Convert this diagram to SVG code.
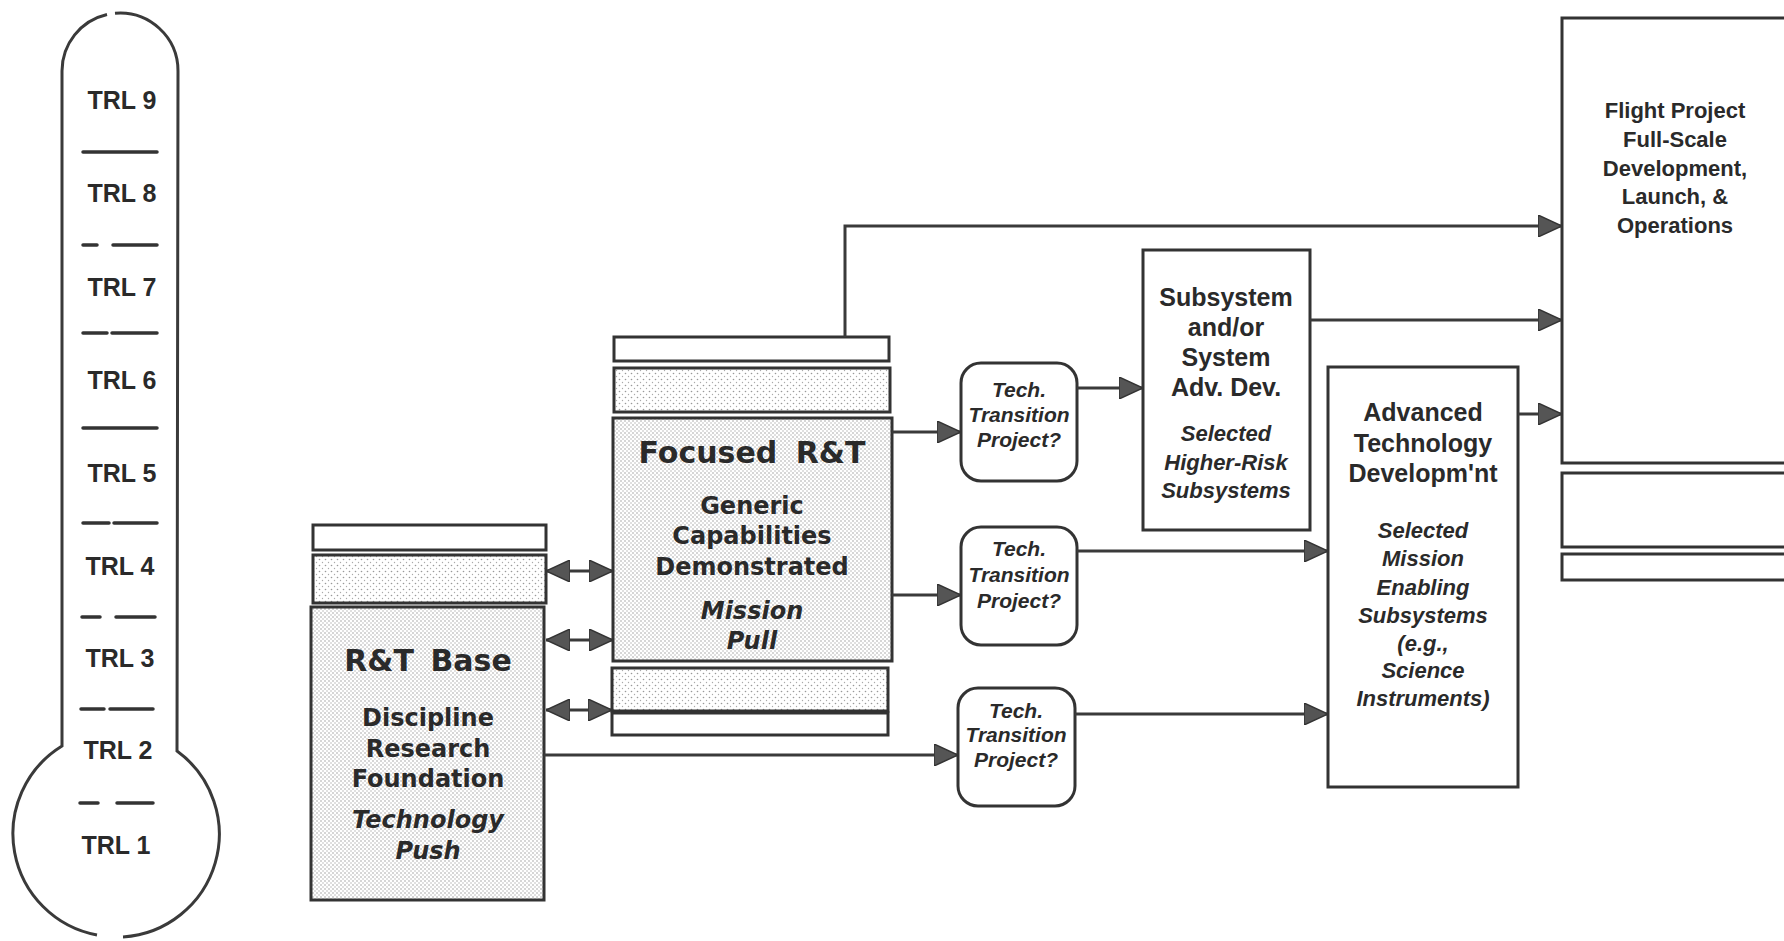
<svg xmlns="http://www.w3.org/2000/svg" width="1784" height="941" viewBox="0 0 1784 941">
<style>
.box{fill:#fff;stroke:#333;stroke-width:3}
.stip{fill:url(#dots);stroke:#333;stroke-width:3}
.stip2{fill:url(#dots2);stroke:#333;stroke-width:3}
.tt{fill:#fff;stroke:#333;stroke-width:3}
.ln{fill:none;stroke:#3a3a3a;stroke-width:3}
.thermo{fill:none;stroke:#3a3a3a;stroke-width:3}
.sep{stroke:#333;stroke-width:3.5;stroke-linecap:round}
text{fill:#2a2a2a;text-anchor:middle}
.trl{font:bold 25px "Liberation Sans",Arial,sans-serif}
.big{font-family:"DejaVu Sans",sans-serif;font-weight:bold;font-size:30px}
.mid{font-family:"DejaVu Sans",sans-serif;font-weight:bold;font-size:24px}
.midi{font-family:"DejaVu Sans",sans-serif;font-weight:bold;font-style:italic;font-size:24px}
.sb{font:bold 25px "Liberation Sans",Arial,sans-serif}
.si{font:italic bold 22px "Liberation Sans",Arial,sans-serif}
.fp{font:bold 22px "Liberation Sans",Arial,sans-serif}
.tti{font:italic bold 21px "Liberation Sans",Arial,sans-serif}
</style>
<defs>
<pattern id="dots" width="4" height="4" patternUnits="userSpaceOnUse">
<rect width="4" height="4" fill="#fff"/>
<circle cx="1" cy="1" r="0.75" fill="#999"/>
<circle cx="3" cy="3" r="0.7" fill="#aaa"/>
</pattern>
<pattern id="dots2" width="6" height="6" patternUnits="userSpaceOnUse">
<rect width="6" height="6" fill="#fff"/>
<circle cx="1.5" cy="1.5" r="0.8" fill="#999"/>
<circle cx="4.5" cy="4.5" r="0.7" fill="#aaa"/>
</pattern>
<marker id="ah" viewBox="0 0 24 22" refX="24" refY="11" markerWidth="24" markerHeight="22" markerUnits="userSpaceOnUse" orient="auto-start-reverse">
<path d="M0,0 L24,11 L0,22 z" fill="#555" stroke="#333" stroke-width="1.5"/>
</marker>
</defs>
<rect width="1784" height="941" fill="#fff"/>

<g id="thermometer">
<path class="thermo" d="M107,14.5 A58,58 0 0 0 62,71 L62,746 A103,103 0 0 0 97,935"/>
<path class="thermo" d="M115,13.2 A58,58 0 0 1 178,71 L177,751 A103,103 0 0 1 123,937"/>
<line class="sep" x1="83" y1="152" x2="157" y2="152"/>
<line class="sep" x1="83" y1="245" x2="97" y2="245"/><line class="sep" x1="113" y1="245" x2="157" y2="245"/>
<line class="sep" x1="83" y1="333" x2="107" y2="333"/><line class="sep" x1="112" y1="333" x2="157" y2="333"/>
<line class="sep" x1="83" y1="428" x2="157" y2="428"/>
<line class="sep" x1="83" y1="523" x2="109" y2="523"/><line class="sep" x1="114" y1="523" x2="157" y2="523"/>
<line class="sep" x1="82" y1="617" x2="100" y2="617"/><line class="sep" x1="116" y1="617" x2="155" y2="617"/>
<line class="sep" x1="81" y1="709" x2="104" y2="709"/><line class="sep" x1="110" y1="709" x2="153" y2="709"/>
<line class="sep" x1="80" y1="803" x2="98" y2="803"/><line class="sep" x1="117" y1="803" x2="153" y2="803"/>
<text class="trl" x="122" y="109">TRL 9</text>
<text class="trl" x="122" y="202">TRL 8</text>
<text class="trl" x="122" y="296">TRL 7</text>
<text class="trl" x="122" y="389">TRL 6</text>
<text class="trl" x="122" y="482">TRL 5</text>
<text class="trl" x="120" y="575">TRL 4</text>
<text class="trl" x="120" y="667">TRL 3</text>
<text class="trl" x="118" y="759">TRL 2</text>
<text class="trl" x="116" y="854">TRL 1</text>
</g>

<g id="rt-base">
<rect class="box" x="313" y="525" width="233" height="25"/>
<rect class="stip2" x="313" y="555" width="233" height="48"/>
<rect class="stip" x="311" y="607" width="233" height="293"/>
<text class="big" x="428" y="671" word-spacing="6">R&amp;T Base</text>
<text class="mid" x="428" y="726">Discipline</text>
<text class="mid" x="428" y="757">Research</text>
<text class="mid" x="428" y="787">Foundation</text>
<text class="midi" x="428" y="828" font-size="25">Technology</text>
<text class="midi" x="428" y="859" font-size="25">Push</text>
</g>

<g id="focused-rt">
<rect class="box" x="614" y="337" width="275" height="24"/>
<rect class="stip2" x="614" y="368" width="276" height="44"/>
<rect class="stip" x="613" y="418" width="279" height="243"/>
<rect class="stip2" x="612" y="668" width="276" height="43"/>
<rect class="box" x="612" y="713" width="276" height="22"/>
<text class="big" x="752" y="463" font-size="29" word-spacing="8">Focused R&amp;T</text>
<text class="mid" x="752" y="514">Generic</text>
<text class="mid" x="752" y="544">Capabilities</text>
<text class="mid" x="752" y="575">Demonstrated</text>
<text class="midi" x="752" y="619">Mission</text>
<text class="midi" x="752" y="649">Pull</text>
</g>

<g id="tt1">
<rect class="tt" x="961" y="363" width="116" height="118" rx="20"/>
<text class="tti" x="1019" y="397">Tech.</text>
<text class="tti" x="1019" y="422">Transition</text>
<text class="tti" x="1019" y="447">Project?</text>
</g>
<g id="tt2">
<rect class="tt" x="961" y="527" width="116" height="118" rx="20"/>
<text class="tti" x="1019" y="556">Tech.</text>
<text class="tti" x="1019" y="582">Transition</text>
<text class="tti" x="1019" y="608">Project?</text>
</g>
<g id="tt3">
<rect class="tt" x="958" y="688" width="117" height="118" rx="20"/>
<text class="tti" x="1016" y="718">Tech.</text>
<text class="tti" x="1016" y="742">Transition</text>
<text class="tti" x="1016" y="767">Project?</text>
</g>

<g id="subsystem">
<rect class="box" x="1143" y="250" width="167" height="280"/>
<text class="sb" x="1226" y="306">Subsystem</text>
<text class="sb" x="1226" y="336">and/or</text>
<text class="sb" x="1226" y="366">System</text>
<text class="sb" x="1226" y="396">Adv. Dev.</text>
<text class="si" x="1226" y="441">Selected</text>
<text class="si" x="1226" y="470">Higher-Risk</text>
<text class="si" x="1226" y="498">Subsystems</text>
</g>

<g id="advanced">
<rect class="box" x="1328" y="367" width="190" height="420"/>
<text class="sb" x="1423" y="421">Advanced</text>
<text class="sb" x="1423" y="452">Technology</text>
<text class="sb" x="1423" y="482">Developm'nt</text>
<text class="si" x="1423" y="538">Selected</text>
<text class="si" x="1423" y="566">Mission</text>
<text class="si" x="1423" y="595">Enabling</text>
<text class="si" x="1423" y="623">Subsystems</text>
<text class="si" x="1423" y="651">(e.g.,</text>
<text class="si" x="1423" y="678">Science</text>
<text class="si" x="1423" y="706">Instruments)</text>
</g>

<g id="flight-project">
<rect class="box" x="1562" y="18" width="240" height="445"/>
<rect class="box" x="1562" y="473" width="240" height="74"/>
<rect class="box" x="1562" y="554" width="240" height="26"/>
<text class="fp" x="1675" y="118">Flight Project</text>
<text class="fp" x="1675" y="147">Full-Scale</text>
<text class="fp" x="1675" y="176">Development,</text>
<text class="fp" x="1675" y="204">Launch, &amp;</text>
<text class="fp" x="1675" y="233">Operations</text>
</g>

<g id="connectors">
<path class="ln" d="M845,337 V226 H1562" marker-end="url(#ah)"/>
<path class="ln" d="M1310,320 H1562" marker-end="url(#ah)"/>
<path class="ln" d="M1518,414 H1562" marker-end="url(#ah)"/>
<path class="ln" d="M1077,388 H1143" marker-end="url(#ah)"/>
<path class="ln" d="M1077,551 H1328" marker-end="url(#ah)"/>
<path class="ln" d="M1075,714 H1328" marker-end="url(#ah)"/>
<path class="ln" d="M892,432 H961" marker-end="url(#ah)"/>
<path class="ln" d="M892,595 H961" marker-end="url(#ah)"/>
<path class="ln" d="M544,755 H958" marker-end="url(#ah)"/>
<path class="ln" d="M546,571 H613" marker-start="url(#ah)" marker-end="url(#ah)"/>
<path class="ln" d="M546,640 H613" marker-start="url(#ah)" marker-end="url(#ah)"/>
<path class="ln" d="M546,710 H612" marker-start="url(#ah)" marker-end="url(#ah)"/>
</g>
</svg>
